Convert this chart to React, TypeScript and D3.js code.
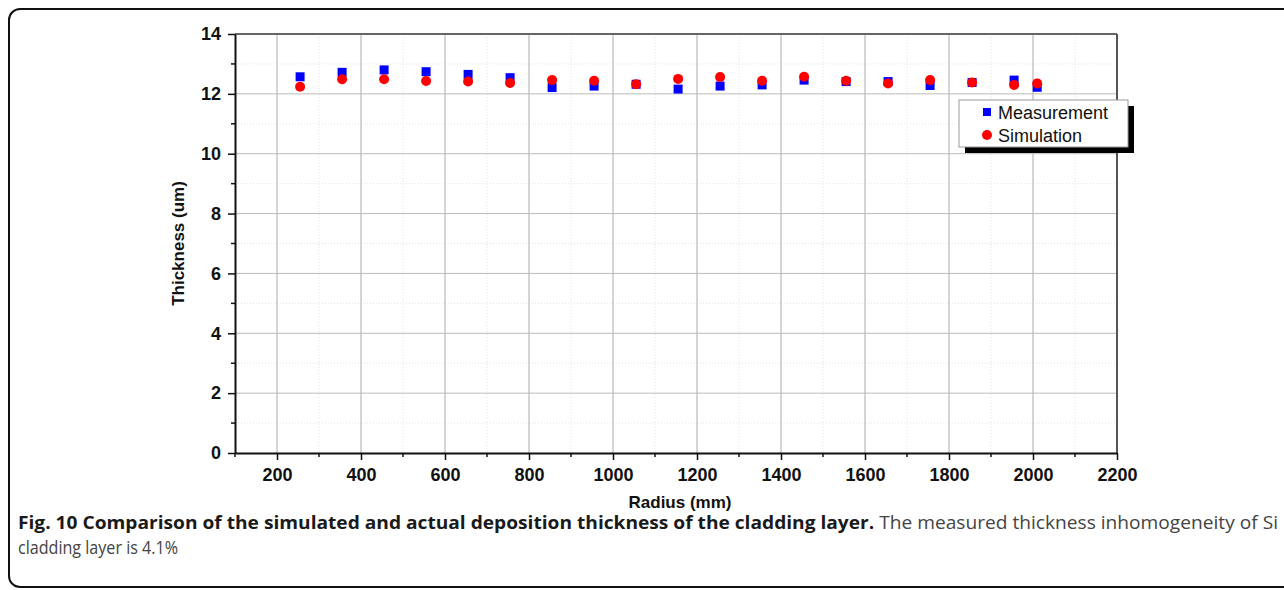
import * as d3 from "d3";
import React from "react";

// radius positions (mm)
const radius = [255, 355, 455, 555, 655, 755, 855, 955, 1055, 1155, 1255, 1355, 1455, 1555, 1655, 1755, 1855, 1955, 2010];
// measured thickness (um)
const measurement = [12.57, 12.72, 12.8, 12.74, 12.65, 12.54, 12.21, 12.26, 12.32, 12.16, 12.26, 12.3, 12.46, 12.41, 12.41, 12.28, 12.38, 12.46, 12.22];
// simulated thickness (um)
const simulation = [12.24, 12.49, 12.49, 12.43, 12.41, 12.36, 12.46, 12.44, 12.32, 12.5, 12.56, 12.44, 12.57, 12.44, 12.35, 12.46, 12.38, 12.3, 12.35];

const xTicks = [200, 400, 600, 800, 1000, 1200, 1400, 1600, 1800, 2000, 2200];
const yTicks = [0, 2, 4, 6, 8, 10, 12, 14];
const seriesNames = ["Measurement", "Simulation"];

const W = 1284;
const H = 590;

const App = () => {
  const ref = React.useRef<SVGSVGElement>(null);

  React.useEffect(() => {
    const svg = d3.select(ref.current);
    svg.selectAll("*").remove();

    const left = 235, right = 1117, top = 34, bottom = 453;
    const x = d3.scaleLinear().domain([100, 2200]).range([left, right]);
    const y = d3.scaleLinear().domain([0, 14]).range([bottom, top]);
    const font = "Arial, 'Liberation Sans', Helvetica, sans-serif";

    // outer frame
    svg.append("rect")
      .attr("x", 9).attr("y", 9)
      .attr("width", 1320).attr("height", 578)
      .attr("rx", 11)
      .attr("fill", "none")
      .attr("stroke", "#111")
      .attr("stroke-width", 2);

    const g = svg.append("g");

    // minor grid
    const xMinor = d3.range(300, 2200, 200);
    const yMinor = d3.range(1, 14, 2);
    g.selectAll(".vminor").data(xMinor).enter().append("line")
      .attr("x1", (d) => x(d)).attr("x2", (d) => x(d))
      .attr("y1", top).attr("y2", bottom)
      .attr("stroke", "#e2e2e2").attr("stroke-dasharray", "1,2");
    g.selectAll(".hminor").data(yMinor).enter().append("line")
      .attr("x1", left).attr("x2", right)
      .attr("y1", (d) => y(d)).attr("y2", (d) => y(d))
      .attr("stroke", "#e2e2e2").attr("stroke-dasharray", "1,2");

    // major grid
    g.selectAll(".vmajor").data(xTicks.slice(0, -1)).enter().append("line")
      .attr("x1", (d) => x(d)).attr("x2", (d) => x(d))
      .attr("y1", top).attr("y2", bottom)
      .attr("stroke", "#aaaaaa");
    g.selectAll(".hmajor").data(yTicks.slice(1, -1)).enter().append("line")
      .attr("x1", left).attr("x2", right)
      .attr("y1", (d) => y(d)).attr("y2", (d) => y(d))
      .attr("stroke", "#bbbbbb");

    // top / right frame
    g.append("line").attr("x1", left).attr("x2", right).attr("y1", top).attr("y2", top)
      .attr("stroke", "#666").attr("stroke-width", 2);
    g.append("line").attr("x1", right).attr("x2", right).attr("y1", top).attr("y2", bottom)
      .attr("stroke", "#555").attr("stroke-width", 2);

    // axes
    const xAxis = d3.axisBottom(x).tickValues(xTicks).tickFormat(d3.format("d")).tickSize(7).tickPadding(8).tickSizeOuter(0);
    const yAxis = d3.axisLeft(y).tickValues(yTicks).tickFormat(d3.format("d")).tickSize(7).tickPadding(7).tickSizeOuter(0);
    const gx = g.append("g").attr("transform", `translate(0,${bottom})`).call(xAxis);
    const gy = g.append("g").attr("transform", `translate(${left},0)`).call(yAxis);
    [gx, gy].forEach((a) => {
      a.attr("font-size", null).attr("font-family", null);
      a.select(".domain").attr("stroke", "#111").attr("stroke-width", 2);
      a.selectAll(".tick line").attr("stroke", "#111").attr("stroke-width", 1.5);
      a.selectAll(".tick text")
        .attr("fill", "#111")
        .style("font-family", font)
        .style("font-weight", "bold")
        .style("font-size", "18px");
    });

    // minor ticks
    g.selectAll(".xmt").data(d3.range(100, 2200, 200)).enter().append("line")
      .attr("x1", (d) => x(d)).attr("x2", (d) => x(d))
      .attr("y1", bottom).attr("y2", bottom + 4)
      .attr("stroke", "#111").attr("stroke-width", 1.5);
    g.selectAll(".ymt").data(yMinor).enter().append("line")
      .attr("x1", left - 4).attr("x2", left)
      .attr("y1", (d) => y(d)).attr("y2", (d) => y(d))
      .attr("stroke", "#111").attr("stroke-width", 1.5);

    // axis titles
    svg.append("text")
      .attr("x", 680).attr("y", 508)
      .attr("text-anchor", "middle")
      .style("font-family", font).style("font-weight", "bold").style("font-size", "17px")
      .attr("fill", "#111")
      .text("Radius (mm)");
    svg.append("text")
      .attr("transform", `translate(184,${(top + bottom) / 2}) rotate(-90)`)
      .attr("text-anchor", "middle")
      .style("font-family", font).style("font-weight", "bold").style("font-size", "17px")
      .attr("fill", "#111")
      .text("Thickness (um)");

    // data points
    g.selectAll(".meas").data(radius).enter().append("rect")
      .attr("x", (d) => x(d) - 4.5)
      .attr("y", (d, i) => y(measurement[i]) - 4.5)
      .attr("width", 9).attr("height", 9)
      .attr("fill", "#0000ff");
    g.selectAll(".sim").data(radius).enter().append("circle")
      .attr("cx", (d) => x(d))
      .attr("cy", (d, i) => y(simulation[i]))
      .attr("r", 5)
      .attr("fill", "#ff0000");

    // legend
    const lx = 959, ly = 100, lw = 169, lh = 47;
    const lg = svg.append("g");
    lg.append("rect").attr("x", lx + 6).attr("y", ly + 6).attr("width", lw).attr("height", lh).attr("fill", "#000");
    lg.append("rect").attr("x", lx).attr("y", ly).attr("width", lw).attr("height", lh)
      .attr("fill", "#fff").attr("stroke", "#999").attr("stroke-width", 1);
    seriesNames.forEach((name, i) => {
      const cy = ly + 12 + i * 23;
      if (i === 0) {
        lg.append("rect").attr("x", 983).attr("y", cy - 4).attr("width", 8).attr("height", 8).attr("fill", "#0000ff");
      } else {
        lg.append("circle").attr("cx", 987).attr("cy", cy).attr("r", 5).attr("fill", "#ff0000");
      }
      lg.append("text")
        .attr("x", 998).attr("y", cy + 6.5)
        .style("font-family", font).style("font-size", "18px")
        .attr("fill", "#111")
        .text(name);
    });

    // caption
    const cap = svg.append("text")
      .attr("x", 18).attr("y", 529)
      .attr("textLength", 1260).attr("lengthAdjust", "spacingAndGlyphs")
      .style("font-family", "'Open Sans', sans-serif").style("font-size", "18px");
    cap.append("tspan").attr("fill", "#1a1a1a").style("font-weight", "bold")
      .text("Fig. 10 Comparison of the simulated and actual deposition thickness of the cladding layer.");
    cap.append("tspan").attr("fill", "#444")
      .text(" The measured thickness inhomogeneity of Si");
    svg.append("text")
      .attr("x", 18).attr("y", 554)
      .attr("textLength", 160).attr("lengthAdjust", "spacingAndGlyphs")
      .style("font-family", "'Open Sans', sans-serif").style("font-size", "18px")
      .attr("fill", "#444")
      .text("cladding layer is 4.1%");
  }, []);

  return (
    <svg ref={ref} width={W} height={H} style={{ position: "absolute", left: 0, top: 0, background: "#fff" }}></svg>
  );
};

export default App;
